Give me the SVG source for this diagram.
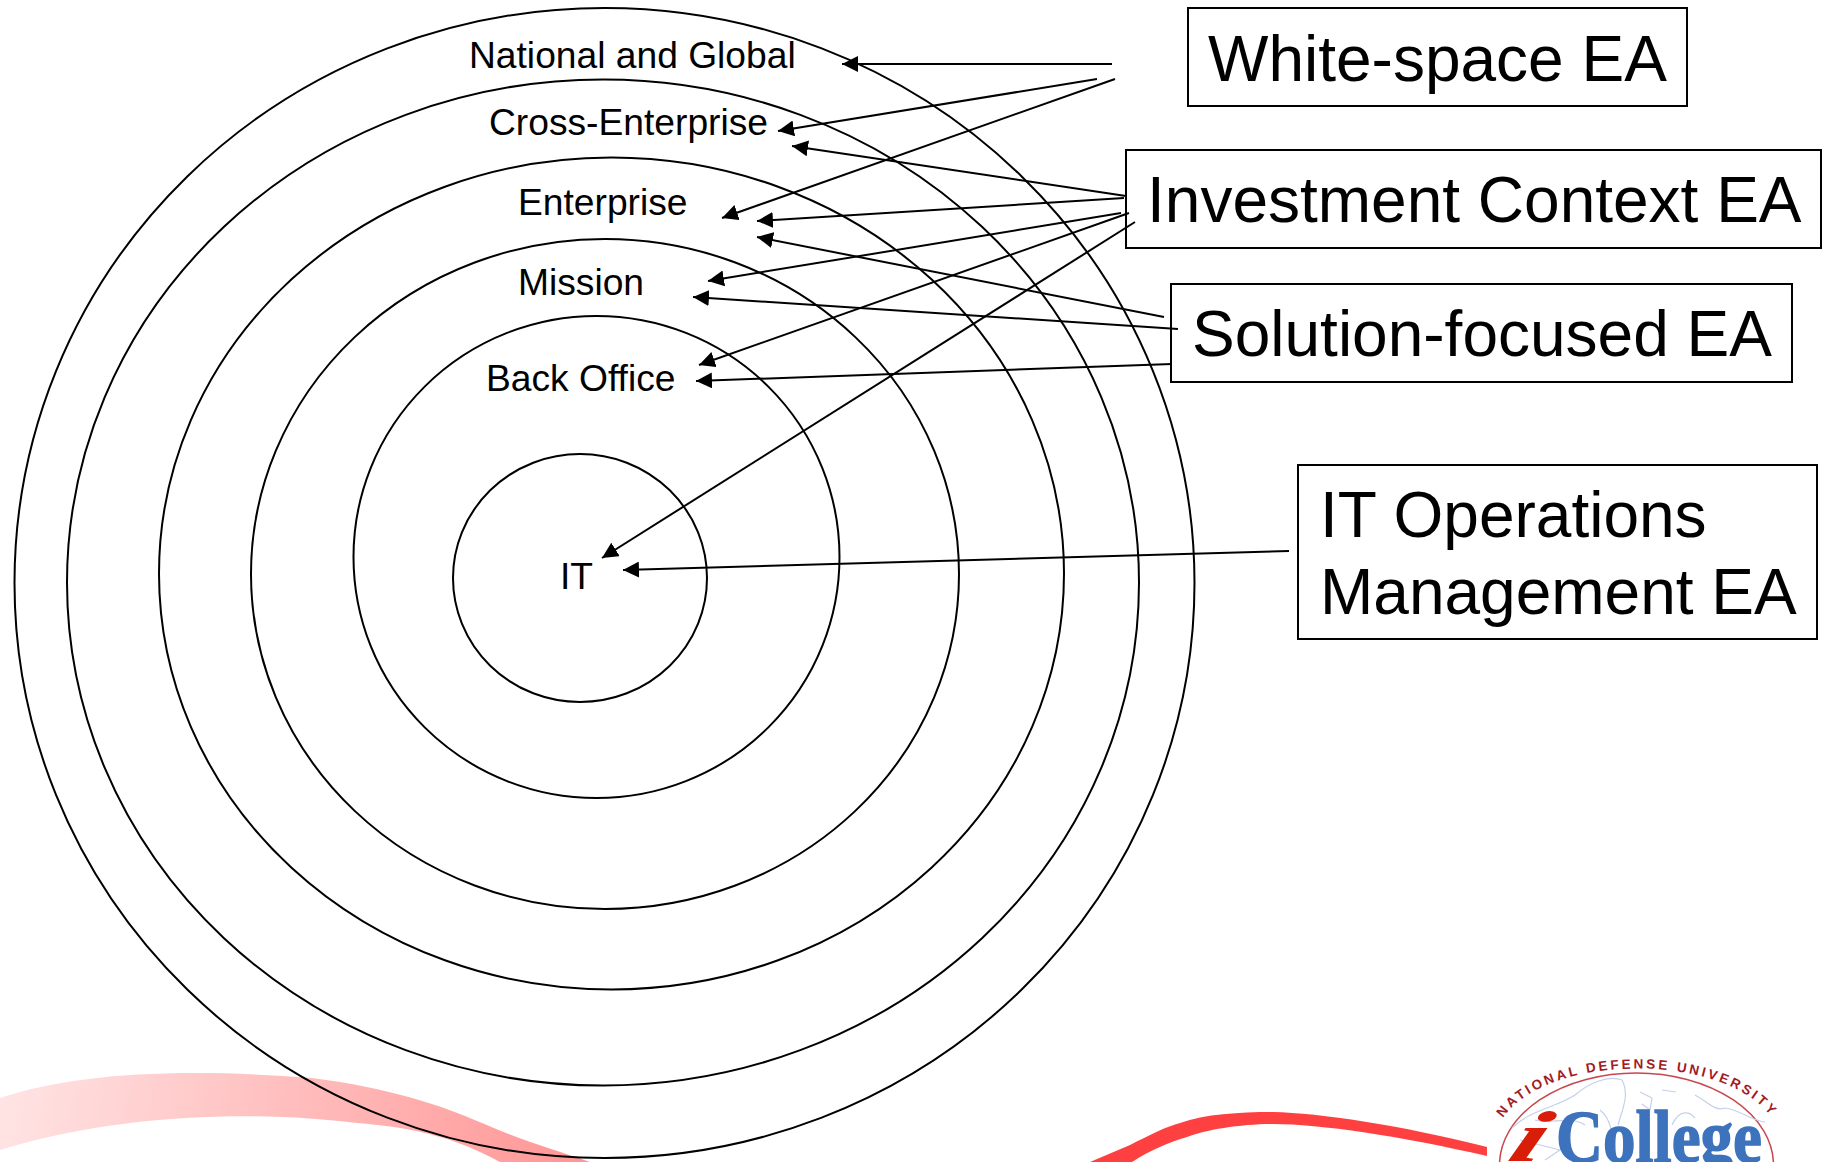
<svg xmlns="http://www.w3.org/2000/svg" width="1826" height="1162" viewBox="0 0 1826 1162">
<style>
text{font-family:"Liberation Sans",Arial,sans-serif;fill:#000}
.ring{fill:none;stroke:#000;stroke-width:2}
.box{fill:#fff;stroke:#000;stroke-width:2}
.lab{font-size:37.2px}
.big{font-size:64px}
.c{fill:none;stroke:#000;stroke-width:2;marker-end:url(#a)}
.map{fill:none;stroke:#c4d0ea;stroke-width:1.2}
.serif{font-family:"Liberation Serif","Times New Roman",serif;font-weight:700}
</style>
<defs>
<marker id="a" markerUnits="userSpaceOnUse" markerWidth="18" markerHeight="16" refX="16" refY="8" orient="auto"><path d="M0 0L16 8L0 16z" fill="#000"/></marker>
<linearGradient id="p" gradientUnits="userSpaceOnUse" x1="0" y1="1090" x2="580" y2="1160"><stop offset="0" stop-color="#ffe4e4"/><stop offset="1" stop-color="#ff9696"/></linearGradient>
<path id="arc" d="M1503 1118C1548 1052 1726 1052 1772 1118"/>
</defs>
<rect width="1826" height="1162" fill="#fff"/>
<g id="swooshes">
<path d="M0 1098C70 1075 170 1067 312 1078C390 1088 440 1105 482 1123C520 1140 555 1150 590 1162L500 1162C460 1140 420 1128 357 1123C270 1112 130 1110 0 1150Z" fill="url(#p)"/>
<path d="M1090 1162L1130 1145C1150 1135 1165 1127 1180 1123C1205 1114 1240 1112 1273 1112C1320 1113 1400 1125 1487 1147L1487 1156C1400 1136 1320 1124 1273 1124C1240 1124 1205 1130 1187 1137C1170 1142 1150 1150 1132 1162Z" fill="#ff4040"/>
</g>
<g id="rings">
<ellipse id="ring-national" class="ring" cx="604.500" cy="583" rx="590" ry="575"/>
<ellipse id="ring-cross" class="ring" cx="603" cy="582.500" rx="536" ry="503"/>
<ellipse id="ring-enterprise" class="ring" cx="611.500" cy="573.500" rx="452.500" ry="416"/>
<ellipse id="ring-mission" class="ring" cx="605" cy="574" rx="354" ry="335"/>
<ellipse id="ring-back" class="ring" cx="596.500" cy="557" rx="243" ry="241"/>
<ellipse id="ring-it" class="ring" cx="580" cy="578" rx="127" ry="124"/>
</g>
<g id="labels">
<text class="lab" x="469" y="68">National and Global</text>
<text class="lab" x="489" y="135">Cross-Enterprise</text>
<text class="lab" x="518" y="215">Enterprise</text>
<text class="lab" x="518" y="295">Mission</text>
<text class="lab" x="486" y="391">Back Office</text>
<text class="lab" x="560" y="589">IT</text>
</g>
<g id="white-space"><rect class="box" x="1188" y="8" width="499" height="98"/><text class="big" x="1208" y="81">White-space EA</text></g>
<g id="investment"><rect class="box" x="1126" y="150" width="695" height="98"/><text class="big" x="1147" y="222">Investment Context EA</text></g>
<g id="solution"><rect class="box" x="1171" y="284" width="621" height="98"/><text class="big" x="1192" y="356">Solution-focused EA</text></g>
<g id="it-ops"><rect class="box" x="1298" y="465" width="519" height="174"/><text class="big" x="1320" y="537">IT Operations</text><text class="big" x="1320" y="614">Management EA</text></g>
<g id="connectors">
<path class="c" d="M1112 64L842 64"/>
<path class="c" d="M1097 79L778 131"/>
<path class="c" d="M1115 79L722 218"/>
<path class="c" d="M1126 196L792 146"/>
<path class="c" d="M1124 198L757 221"/>
<path class="c" d="M1121 213L708 281"/>
<path class="c" d="M1129 213L699 365"/>
<path class="c" d="M1135 222L602 558"/>
<path class="c" d="M1164 317L757 237"/>
<path class="c" d="M1178 329L693 297"/>
<path class="c" d="M1172 364L696 381"/>
<path class="c" d="M1289 551L623 570"/>
</g>
<g id="logo">
<rect x="1487" y="1052" width="300" height="110" fill="#fff"/>
<ellipse cx="1636.500" cy="1165" rx="137" ry="92" fill="#fff" stroke="#c8474f" stroke-width="1.500"/>
<path class="map" d="M1512 1128C1530 1110 1555 1108 1575 1095C1590 1082 1610 1075 1622 1080C1630 1095 1622 1110 1618 1125M1640 1092L1652 1098L1650 1110L1642 1104M1662 1090L1676 1092M1672 1125C1680 1108 1690 1112 1695 1118M1695 1095C1705 1100 1715 1112 1725 1108C1740 1110 1750 1120 1765 1122M1535 1120C1550 1125 1570 1115 1585 1125M1520 1140L1560 1150L1545 1160M1600 1110C1610 1118 1615 1135 1610 1150"/>
<text class="serif" style="fill:#a11a24;font-family:'Liberation Sans',Arial,sans-serif" font-size="13.500"><textPath href="#arc" textLength="293" lengthAdjust="spacing">NATIONAL DEFENSE UNIVERSITY</textPath></text>
<text class="serif" x="1556" y="1162" font-size="73" textLength="206" lengthAdjust="spacingAndGlyphs" stroke="#3d72bd" stroke-width="1.500" style="fill:#3d72bd">College</text>
<text class="serif" transform="translate(1505 1161) skewX(-22) scale(1.7 1)" font-size="72" font-style="italic" style="fill:#d81e08">i</text>
</g>
</svg>
